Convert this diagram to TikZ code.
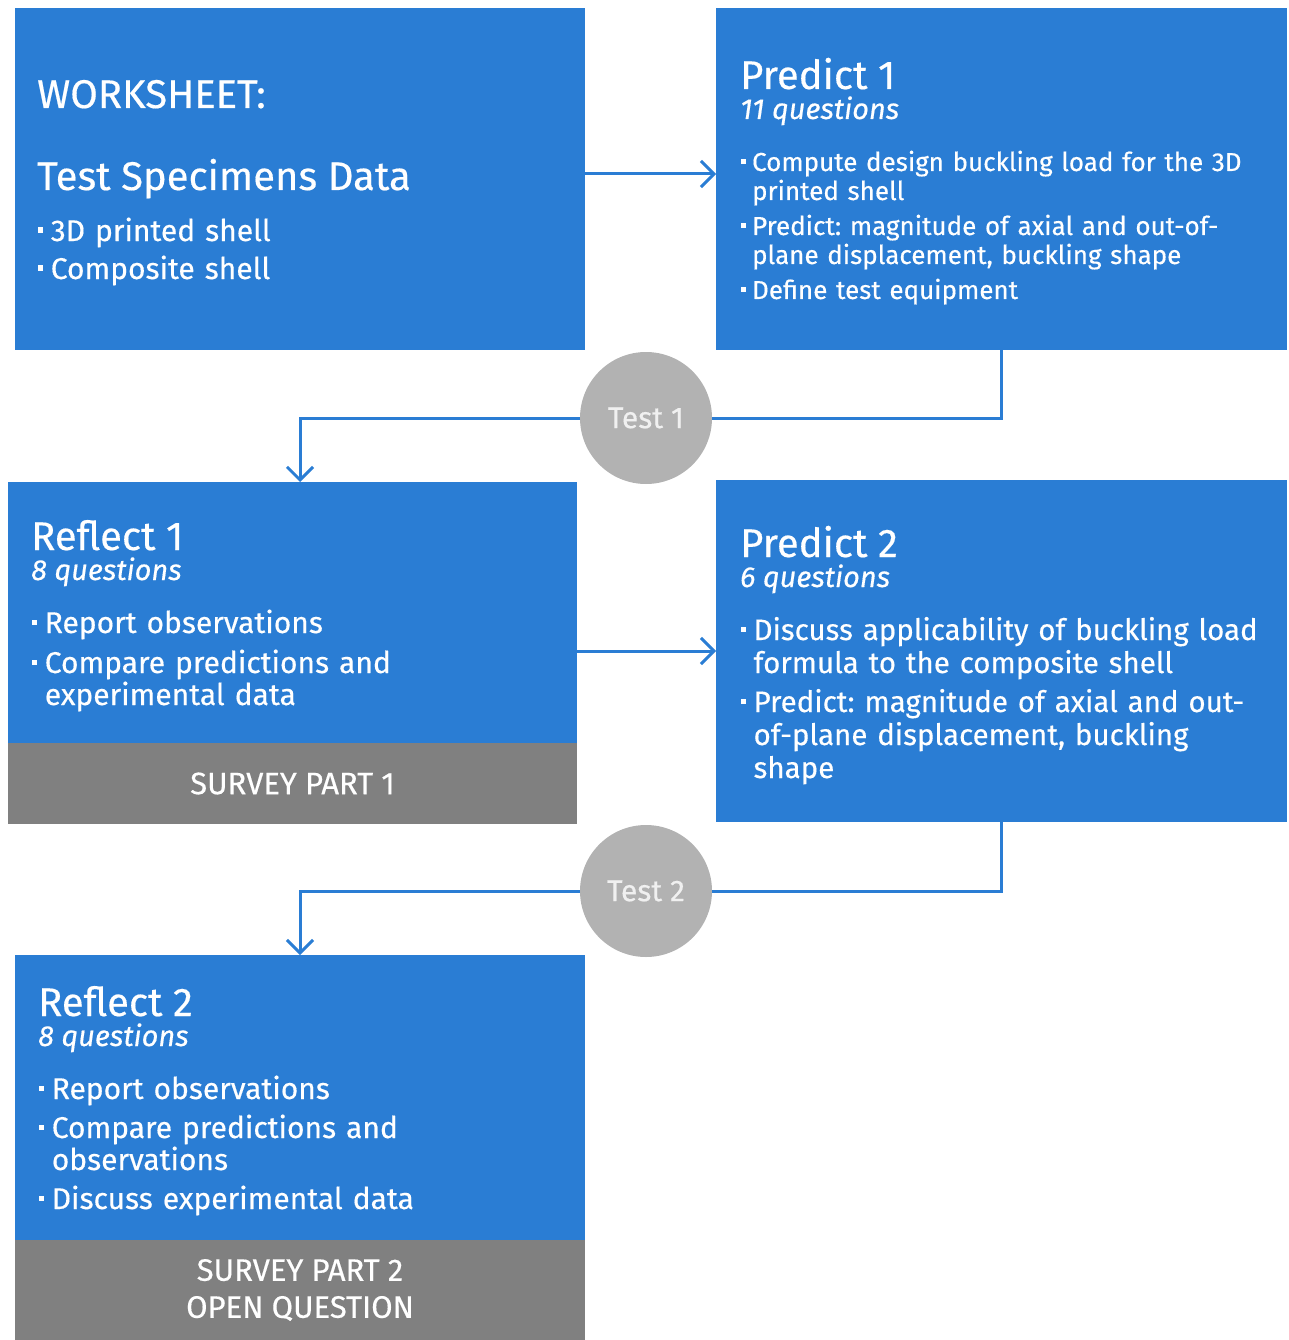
\documentclass[tikz,border=0pt]{standalone}
\usepackage{fontspec}
\setmainfont{Fira Sans}[FakeBold=0.4]
\usetikzlibrary{arrows.meta}
\definecolor{boxblue}{RGB}{42,125,212}
\definecolor{bandgray}{RGB}{128,128,128}
\definecolor{circgray}{RGB}{178,178,178}
\definecolor{circtext}{RGB}{240,240,240}
\newcommand\bitem[1]{\hangindent=0.42em\hangafter=1\noindent\makebox[0.42em][l]{\raisebox{0.28em}{\rule{0.17em}{0.17em}}}#1\par}
\tikzset{
  box/.style={fill=boxblue, draw=none, inner sep=0pt, outer sep=0pt},
  band/.style={fill=bandgray, draw=none, inner sep=0pt, outer sep=0pt, text=white, align=center, font=\fontsize{31}{37}\selectfont},
  testcirc/.style={circle, fill=circgray, draw=none, minimum size=132pt, inner sep=0pt, outer sep=0pt, text=circtext, font=\fontsize{30}{32}\selectfont},
  titletxt/.style={anchor=base west, inner sep=0pt, text=white, font=\fontsize{40}{44}\selectfont},
  subtxt/.style={anchor=base west, inner sep=0pt, text=white, font=\fontsize{29}{32}\selectfont\itshape},
  listtxt/.style={anchor=base west, inner sep=0pt, text=white, text width=545pt, align=left},
  conn/.style={draw=boxblue, line width=3pt},
  arr/.style={conn, -{Straight Barb[length=13pt,width=26pt]}}
}
\begin{document}
\frenchspacing
\begin{tikzpicture}[x=1pt,y=-1pt]
\useasboundingbox (0,0) rectangle (1289,1340);
% boxes
\node[box, minimum width=570pt, minimum height=342pt] (ws) at (300,179) {};
\node[box, minimum width=571pt, minimum height=342pt] (p1) at (1001.5,179) {};
\node[box, minimum width=569pt, minimum height=261pt] (r1) at (292.5,612.5) {};
\node[band, minimum width=569pt, minimum height=81pt] (r1s) at (292.5,783.5) {SURVEY PART 1};
\node[box, minimum width=571pt, minimum height=342pt] (p2) at (1001.5,651) {};
\node[box, minimum width=570pt, minimum height=285pt] (r2) at (300,1097.5) {};
\node[band, minimum width=570pt, minimum height=100pt] (r2s) at (300,1290) {\raisebox{-3pt}{SURVEY PART 2}\\\raisebox{-3pt}{OPEN QUESTION}};
\node[testcirc] (t1) at (646,418) {Test 1};
\node[testcirc] (t2) at (646,891) {Test 2};
% worksheet text
\node[titletxt, font=\fontsize{40}{42}\selectfont] (wsa) at (37,108) {WORKSHEET:};
\node[titletxt] (wsb) at (37,190) {Test Specimens Data};
\node[listtxt, font=\fontsize{30}{30}\selectfont] (wsl) at (38,241) {\setlength{\parskip}{8pt}%
\bitem{3D printed shell}%
\bitem{Composite shell}};
% predict 1 text
\node[titletxt] (p1a) at (740,89) {Predict 1};
\node[subtxt] (p1b) at (740,119) {11 questions};
\node[listtxt, font=\fontsize{26}{29}\selectfont] (p1l) at (741,171) {\setlength{\parskip}{6pt}%
\bitem{Compute design buckling load for the 3D\newline printed shell}%
\bitem{Predict: magnitude of axial and out-of-\newline plane displacement, buckling shape}%
\bitem{Define test equipment}};
% reflect 1 text
\node[titletxt] (r1a) at (31,550) {Reflect 1};
\node[subtxt] (r1b) at (31,580) {8 questions};
\node[listtxt, font=\fontsize{30}{32}\selectfont] (r1l) at (32,633) {\setlength{\parskip}{8pt}%
\bitem{Report observations}%
\bitem{Compare predictions and\newline experimental data}};
% predict 2 text
\node[titletxt] (p2a) at (740,557) {Predict 2};
\node[subtxt] (p2b) at (740,587) {6 questions};
\node[listtxt, font=\fontsize{29.5}{33}\selectfont] (p2l) at (741,640) {\setlength{\parskip}{6pt}%
\bitem{Discuss applicability of buckling load\newline formula to the composite shell}%
\bitem{Predict: magnitude of axial and out-\newline of-plane displacement, buckling\newline shape}};
% reflect 2 text
\node[titletxt] (r2a) at (38,1016) {Reflect 2};
\node[subtxt] (r2b) at (38,1046) {8 questions};
\node[listtxt, font=\fontsize{30}{32}\selectfont] (r2l) at (39,1099) {\setlength{\parskip}{7pt}%
\bitem{Report observations}%
\bitem{Compare predictions and\newline observations}%
\bitem{Discuss experimental data}};
% connectors
\draw[arr] ([yshift=5pt]ws.east) -- ([yshift=5pt]p1.west);
\draw[conn] (p1.south) |- (t1);
\draw[arr] (t1) -| ([xshift=7.5pt]r1.north);
\draw[arr] (r1.east |- p2.west) -- (p2.west);
\draw[conn] (p2.south) |- (t2);
\draw[arr] (t2) -| (r2.north);
\end{tikzpicture}
\end{document}
